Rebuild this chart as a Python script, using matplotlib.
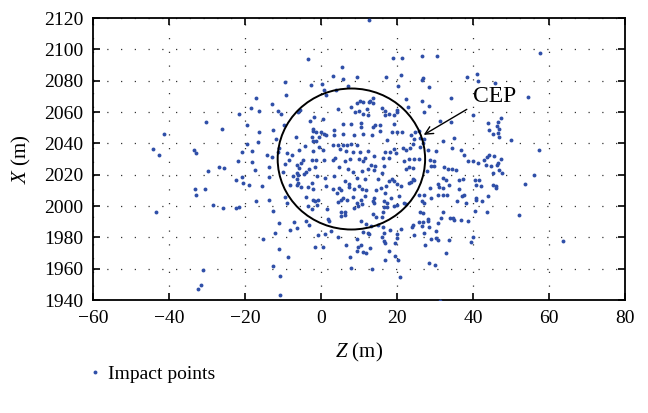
import matplotlib
matplotlib.use("Agg")
import matplotlib.pyplot as plt
from matplotlib.patches import Ellipse

plt.rcParams["font.family"] = ["Liberation Serif", "DejaVu Serif"]
plt.rcParams["mathtext.fontset"] = "custom"
plt.rcParams["mathtext.rm"] = "Liberation Serif"
plt.rcParams["mathtext.it"] = "Liberation Serif:italic"

# impact points: (Z, X) in metres
points = [
    (-3.5, 2093.6), (5.5, 2088.5), (3.1, 2083.2), (9.6, 2082.6), (5.9, 2080.9), (-9.6, 2079),
    (0.3, 2077.7), (-2.6, 2077), (7.2, 2076.8), (0.8, 2074.3), (4.0, 2074.3), (-9.1, 2071),
    (1.2, 2070.9), (-17.1, 2068.8), (10.3, 2067.2), (9.4, 2065.5), (11, 2066.2), (-12.8, 2064.9),
    (7.8, 2063.2), (-18.4, 2062.4), (4.6, 2061.7), (-16.2, 2060.8), (-11.2, 2060.5), (9, 2059.8),
    (-5.5, 2061.5),
    (12.7, 2118.7), (19, 2094.7), (21.4, 2094.5), (26.7, 2095.7), (30.4, 2095.7), (17.1, 2082.3),
    (21.1, 2083.6), (26.9, 2081.9), (26.7, 2080.2), (38.3, 2082.1), (41, 2084.3), (41.4, 2079.6),
    (45.9, 2078.3), (20.3, 2076.6), (28.4, 2076.2), (34.3, 2069.1), (22.4, 2068.1), (26.6, 2066.8),
    (13, 2067), (13.8, 2068.8), (13.6, 2066), (12.6, 2066.2), (12, 2061.7), (16, 2062.4),
    (16.9, 2060.5), (22.8, 2063), (28.3, 2063.8), (27.2, 2059.8),
    (57.7, 2097.9), (54.4, 2069.6),
    (-30.3, 2053.6), (-26.1, 2049.4), (-41.4, 2045.8), (-44.1, 2036.4), (-42.7, 2032.8),
    (-33.5, 2035.6), (-32.9, 2034), (-26.8, 2024.9), (-25.4, 2024.1), (-29.7, 2022.2),
    (-33.2, 2011.1), (-30.5, 2011.1), (-32.8, 2007), (-28.3, 2000.9),
    (47.4, 2056.2), (46.5, 2053.8), (46.3, 2050.9), (46.9, 2049), (50, 2042.1), (57.5, 2035.6),
    (47.4, 2030), (46.2, 2026), (47.7, 2020.9), (56.1, 2020), (53.8, 2013.9), (46, 2012.6),
    (-25.7, 1998.6), (-43.3, 1996), (-31.1, 1959.2), (-31.5, 1949.8), (-32.4, 1946.9),
    (52, 1994.3), (63.7, 1977.9),
    (-22.4, 1998.9), (-21.5, 1999.4), (-12.7, 1996.8), (-11.1, 1989), (-12, 1983), (-15.2, 1979.2),
    (-11, 1972.8), (-8.6, 1967.7), (-12.6, 1961.9), (-10.9, 1955.1), (-10.7, 1943.4), (-7.1, 1989.8),
    (-8.1, 1984.9), (-6.3, 1986.2), (-3.9, 1990.3), (-3.1, 1987.7), (-3.3, 1999.8), (-2.4, 1997.9),
    (1.5, 1998.3), (1.9, 1991.5), (2.2, 1990.6), (2.7, 1984.3), (-0.8, 1981.3), (1.1, 1982),
    (0.4, 1974.1), (-1.5, 1973.7), (4.4, 1980.2), (4.6, 2002.4), (5.2, 2003.9), (5.2, 1996.2),
    (6.2, 1996.2), (5.3, 1993.8), (6.3, 1994.1), (8.6, 1998.6), (9.6, 2002.1), (9.8, 2000),
    (10.7, 2001.1), (10.5, 1990.3), (11.8, 1988.5), (6.6, 1974.9), (9.6, 1978.8), (9.8, 1973.7),
    (9.6, 1971.5), (10.5, 1974.9), (11, 1970.7), (11.8, 1970.2), (7.7, 1967.3), (8, 1960.3),
    (13.8, 2003.2), (14, 2001.7), (16.7, 2003.2), (17.4, 2001.7), (16.5, 1999.6), (17.4, 1999.2),
    (19.3, 2000.2), (19.9, 2000.7), (21.9, 2001.7), (22.5, 2001.1), (16.3, 1996), (16, 1992.8),
    (13.8, 1994.7), (14.5, 1993.2), (13.2, 1987.5), (11, 1983.6), (12.3, 1983), (12.7, 1981.9),
    (15.1, 1987.9), (16.4, 1986.4), (18.2, 1984.7), (19.9, 1981.9), (21.1, 1985.5), (16.7, 1983),
    (16.1, 1980), (16.5, 1977.9), (16.8, 1976.2), (19.6, 1976.6), (20, 1979.4), (12.9, 1973.4),
    (17.9, 1971.5), (16.9, 1965.6), (19.6, 1968.1), (20.2, 1965.6), (13.5, 1959.6), (20.9, 1954.5),
    (31.2, 1939.4), (27.1, 2002.1), (26.1, 1996.2), (26.8, 1995.4), (32, 1996.4), (31.7, 1992.6),
    (28.1, 1991.7), (28.1, 1990.5), (25.8, 1989.6), (26.9, 1989.6), (26.6, 1987.5), (28.5, 1986.8),
    (24.1, 1987.9), (23.9, 1986.8), (24.5, 1981.5), (27.1, 1983), (30.7, 1989), (30.3, 1984.3),
    (30.3, 1979.8), (30.9, 1978.3), (29, 1978.8), (27.4, 1975.3), (33.6, 1978.1), (32.9, 1970.2),
    (28.3, 1963.5), (30.1, 1962.6), (34, 1992.6), (34.8, 1992.6), (35.1, 1991.1), (36.8, 1991.1),
    (38.8, 1990.6), (35.9, 2003.4), (38.2, 2002.1), (40.8, 2003.9), (40.4, 1996.8), (43.8, 1996.4),
    (40, 1980.4), (39.6, 1977.2),
    (-21.5, 2058.7), (-10.5, 2058.9), (-6.1, 2060), (-1.8, 2056.8), (-2.9, 2054.5), (0.4, 2055.7),
    (10.1, 2060.5), (-19.4, 2051.5), (-12.5, 2048.3), (-16.4, 2047.1), (-9.7, 2051.9),
    (-2.2, 2049.2), (-2, 2047.7), (-1.3, 2047.3), (0, 2047.3), (0.7, 2046.2), (1.3, 2045.1),
    (3.3, 2048.3), (3.5, 2045.5), (5.7, 2052.4), (8, 2052.5), (10.5, 2053), (5.9, 2046.2),
    (8.8, 2045.5), (11.1, 2046.2), (-11.8, 2042.8), (-6.6, 2044.1), (-16.7, 2040.7), (-19.5, 2039.8),
    (-2.4, 2043.9), (-1.3, 2041.7), (-0.4, 2044.1), (-2, 2041.3), (-4.2, 2038.1), (-5.9, 2036),
    (-0.5, 2037.7), (-2, 2034.9), (0.4, 2035.6), (-11, 2037), (-11.4, 2034.5), (-8.9, 2033.8),
    (-7.6, 2032.8), (-8.3, 2029.6), (-14.2, 2032.8), (-13, 2031.1), (-20.7, 2034.3), (-18.1, 2035.4),
    (-21.8, 2028.6), (-18.2, 2028.1), (3.1, 2039.2), (4.6, 2039.2), (5.7, 2038.8), (6.8, 2038.8),
    (7.9, 2039.8), (9.6, 2039.2), (5.1, 2036.4), (6.6, 2035.3), (8.5, 2034.3), (10.3, 2034.3),
    (-2.4, 2029.6), (-1.3, 2029.6), (0.9, 2029.6), (-4.8, 2029.6), (-5.3, 2027.5), (3.1, 2029.2),
    (3.7, 2030.7), (6.4, 2028.9), (7.7, 2030), (10.1, 2030), (11.1, 2028.6), (-9.6, 2027),
    (-6.3, 2026.4), (-5.7, 2024.3), (-3.2, 2023.6), (-1.5, 2024.9), (-3.9, 2021.5), (-4.6, 2020.6),
    (-6.3, 2021.1), (-7.3, 2019.4), (-6.1, 2020), (-13.6, 2024.7), (-17.3, 2022.8), (-13.6, 2018.5),
    (-20.9, 2018.5), (-22.4, 2016.4), (-20.6, 2014.7), (-18.9, 2013.2), (-15.6, 2012.6),
    (-10.1, 2021.5), (-6.3, 2017.4), (-6.1, 2014.7), (-6.3, 2013.2), (-5.3, 2012.2), (-8.1, 2013.2),
    (-3.5, 2012.2), (-2, 2010.9), (-2.4, 2014.7), (-1.1, 2019), (1.3, 2013), (3.1, 2011.1),
    (4.8, 2011.5), (1.1, 2017.9), (3.5, 2019.4), (4.8, 2024.7), (7, 2023.6), (8.3, 2021.5),
    (9.6, 2017.9), (10.8, 2022.2), (11.7, 2017.4), (6.3, 2015.8), (7.5, 2014.3), (7.3, 2012.2),
    (8.8, 2010.9), (9.9, 2013), (10.8, 2010.9), (5.3, 2010.4), (4.2, 2008.3), (5.9, 2005.1),
    (6.8, 2004), (8.5, 2005.6), (-3.9, 2005.8), (-2.2, 2004), (-1.5, 2003), (-0.9, 2004),
    (-1.1, 2000.9), (-9.6, 2005.6), (-8.9, 2001.9), (-13.6, 2004), (-17.1, 2003),
    (12.5, 2058.3), (11, 2058.9), (16.9, 2057.9), (18, 2058.9), (19.3, 2057.9), (20, 2060),
    (20, 2061.5), (14.2, 2051.9), (13.6, 2050.3), (10.5, 2050.3), (15.6, 2051.9), (15.4, 2047.7),
    (13.3, 2045.5), (17.5, 2042.3), (19.3, 2052.5), (18.7, 2047.3), (20, 2047.3), (21.3, 2047.1),
    (23.7, 2045.5), (24.8, 2047.3), (25.9, 2047.7), (24.6, 2042.8), (26.1, 2043.4), (27, 2042.8),
    (24.1, 2039.6), (23.5, 2037), (26.8, 2040.2), (26.1, 2037.5), (21.5, 2037), (22.5, 2036),
    (19.3, 2036.6), (19.7, 2033.8), (18.2, 2034.3), (16.8, 2034.3), (18, 2030.7), (16.2, 2030.7),
    (14, 2031.7), (12.3, 2034.9), (11.6, 2030.7), (13.2, 2026), (14.2, 2025.3), (16.7, 2025.3),
    (23.2, 2030), (24.6, 2030), (25.7, 2030), (28.1, 2036), (30.3, 2035.3), (29.7, 2028.9),
    (23.1, 2024.7), (24.1, 2024.3), (28.8, 2029.2), (28.9, 2025.4), (29.7, 2025.8), (32.5, 2024.7),
    (33.5, 2023.6), (34.4, 2023.6), (35.5, 2023.2), (32, 2041.7), (31.4, 2054), (34.2, 2053.6),
    (35.1, 2043.4), (34.4, 2037), (36.8, 2035.6), (37.7, 2032.8), (32, 2017.9), (32.9, 2016.8),
    (27.9, 2022.2), (31.1, 2012), (32, 2011.5), (36.2, 2011.1), (33.8, 2013.2), (36.4, 2016.4),
    (37.3, 2017.4), (28.8, 2011.5), (30.7, 2014.1), (27.2, 2006.9), (25.9, 2006.9), (26.5, 2003.4),
    (28.9, 2005.1), (30.9, 2006.9), (32, 2006.9), (33.2, 2006.9), (37, 2006.2), (37.7, 2006.9),
    (21.9, 2028.6), (24.1, 2017.3), (23.7, 2015.3), (23.2, 2014.7), (24.6, 2016.4), (22.4, 2023.8),
    (21.1, 2012.6), (18.6, 2017.3), (19.3, 2016.2), (20, 2014.1), (18, 2015.8), (17.1, 2012.6),
    (12.3, 2023.6), (14, 2023.2), (16, 2021.1), (14.9, 2017.4), (11.8, 2010.4), (14.5, 2010.4),
    (15.8, 2011.5), (16.8, 2008.3), (18.4, 2005.1), (20.6, 2006.2), (10.5, 2004), (11.6, 2006.2),
    (14, 2005.1),
    (39.9, 2058.3), (43.9, 2053), (46.5, 2046.6), (44.1, 2048.7), (45.2, 2046), (46.8, 2043.9),
    (38.6, 2028.9), (39.9, 2028.6), (41.2, 2027.5), (43, 2029.6), (43.6, 2031.1), (44.3, 2032.8),
    (45.6, 2031.7), (43.4, 2026.4), (44.7, 2025.3), (46.5, 2027.5), (45.2, 2021.1), (46.9, 2023.2),
    (40.4, 2016.8), (41.6, 2016.8), (40.8, 2013.6), (42.1, 2012.6), (45.2, 2013.2), (46.1, 2011.5),
    (40.8, 2005.1), (42.5, 2003.4), (43.9, 2006.2),
]
z_vals = [p[0] for p in points]
x_vals = [p[1] for p in points]

cep_center = (8.0, 2030.0)
cep_width = 38.8   # in Z units
cep_height = 90.0  # in X units

fig = plt.figure(figsize=(6.48, 4.13), dpi=100)
ax = fig.add_axes([0.1435, 0.2736, 0.821, 0.6828])

ax.plot(z_vals, x_vals, "o", color="#2f4fa8", markersize=2.8, markeredgewidth=0,
        label="Impact points", zorder=3)

ax.add_patch(Ellipse(cep_center, cep_width, cep_height, fill=False,
                     edgecolor="black", linewidth=1.4, zorder=4))

ax.annotate("", xy=(26.4, 2044.5), xytext=(39.0, 2062.6),
            arrowprops=dict(arrowstyle="->", color="black", lw=1.0, mutation_scale=14))
ax.text(40.0, 2069.6, "CEP", fontsize=17, ha="left", va="center")

ax.set_xlim(-60, 80)
ax.set_ylim(1940, 2120)
ax.set_xticks(range(-60, 81, 20))
ax.set_yticks(range(1940, 2121, 20))
ax.set_xticklabels(["\u221260", "\u221240", "\u221220", "0", "20", "40", "60", "80"])
ax.tick_params(direction="in", top=True, right=True, length=5, width=1.2,
               labelsize=14, pad=7)
for s in ax.spines.values():
    s.set_linewidth(1.3)

ax.grid(True, color="#333333", linestyle=(0, (1, 10)), linewidth=0.9)

ax.set_xlabel("$Z$ (m)", fontsize=15, labelpad=10)
ax.set_ylabel("$X$ (m)", fontsize=15, labelpad=8)

fig.legend(loc="lower left", bbox_to_anchor=(0.11, 0.03), frameon=False,
           fontsize=14, handlelength=0.6, handletextpad=0.4, markerscale=1.0)

plt.savefig("out.png", dpi=100)
